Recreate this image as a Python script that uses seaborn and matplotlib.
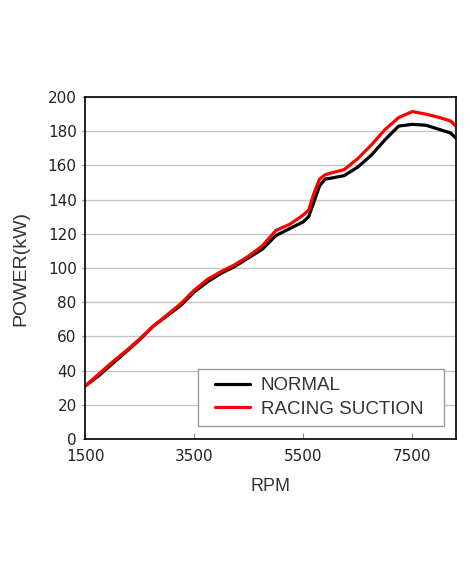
import numpy as np
import pandas as pd
import matplotlib
matplotlib.use("Agg")
import matplotlib.pyplot as plt
from matplotlib.patches import Rectangle
import seaborn as sns

rpm = [1500, 1750, 2000, 2250, 2500, 2750, 3000, 3250, 3500, 3750, 4000, 4250,
       4500, 4750, 5000, 5250, 5500, 5600, 5700, 5800, 5900, 6000, 6250, 6500,
       6750, 7000, 7250, 7500, 7750, 8000, 8200, 8300]
normal = [31, 37, 44, 51, 58, 66, 72, 78, 86, 92, 97, 101,
          106, 111, 119, 123, 127, 130, 139, 148, 152, 152.5, 154, 159,
          166, 175, 183, 184, 183.5, 181, 179, 176]
racing = [31, 38, 45, 51.5, 58.5, 66, 72.5, 79, 87, 93.5, 98, 102,
          107, 113, 122, 125.5, 131, 134, 144, 152, 154.5, 155.5, 157.5, 164,
          172, 181, 188, 191.5, 190, 188, 186, 183]
series_names = ["NORMAL", "RACING SUCTION"]
colors = ["#000000", "#ff0000"]
xticks = [1500, 3500, 5500, 7500]
yticks = list(range(0, 201, 20))

df = pd.DataFrame({
    "RPM": rpm * 2,
    "POWER": normal + racing,
    "series": [series_names[0]] * len(rpm) + [series_names[1]] * len(rpm),
})

sns.set_theme(style="white")
plt.rcParams["font.family"] = ["DejaVu Sans"]

fig = plt.figure(figsize=(4.7, 5.88), dpi=100)
ax = fig.add_axes([0.181, 0.2534, 0.789, 0.5816])

sns.lineplot(data=df, x="RPM", y="POWER", hue="series", hue_order=series_names,
             palette=colors, linewidth=2.3, ax=ax, legend=True)

ax.set_xlim(1500, 8300)
ax.set_ylim(0, 200)
ax.set_xticks(xticks)
ax.set_yticks(yticks)
ax.yaxis.grid(True, color="#c4c4c4", linewidth=1)
ax.xaxis.grid(False)
ax.set_axisbelow(True)
for s in ax.spines.values():
    s.set_color("#000000")
    s.set_linewidth(1.2)
    s.set_visible(True)

ax.tick_params(axis="x", direction="in", length=4, width=0.8, color="#888888",
               labelsize=11, labelcolor="#222222", pad=7, bottom=True)
ax.tick_params(axis="y", direction="out", length=2, width=0.8, color="#888888",
               labelsize=11, labelcolor="#222222", pad=4, left=True)

ax.set_xlabel("RPM", fontsize=13, family="Liberation Sans", color="#333333", labelpad=10)
ax.set_ylabel("POWER(kW)", fontsize=14, family="Liberation Sans", color="#333333", labelpad=13)

# legend frame (axes coords)
bx0, bx1 = 0.305, 0.968
by0, by1 = 0.038, 0.205
ax.add_patch(Rectangle((bx0, by0), bx1 - bx0, by1 - by0, transform=ax.transAxes,
                       facecolor="white", edgecolor="#999999", linewidth=1, zorder=4))

handles, labels = ax.get_legend_handles_labels()
leg = ax.legend(handles, labels, loc="center",
                bbox_to_anchor=((bx0 + bx1) / 2 - 0.006, (by0 + by1) / 2),
                borderaxespad=0, frameon=False,
                prop={"family": "Liberation Sans", "size": 13.5},
                handlelength=1.9, handletextpad=0.55, borderpad=0.2, labelspacing=0.35)
leg.set_zorder(5)
for t in leg.get_texts():
    t.set_color("#333333")

fig.savefig("out.png", dpi=100, facecolor="white")
